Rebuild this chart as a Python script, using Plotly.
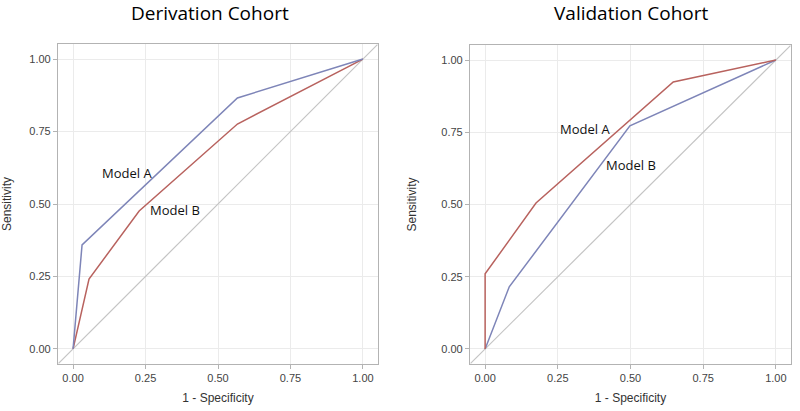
import plotly.graph_objects as go

# Derivation cohort
der_a_x = [0.0, 0.031, 0.567, 1.0]
der_a_y = [0.0, 0.359, 0.866, 1.0]
der_b_x = [0.0, 0.055, 0.228, 0.567, 1.0]
der_b_y = [0.0, 0.241, 0.476, 0.776, 1.0]

# Validation cohort
val_a_x = [0.0, 0.0, 0.175, 0.647, 1.0]
val_a_y = [0.0, 0.26, 0.505, 0.924, 1.0]
val_b_x = [0.0, 0.083, 0.498, 1.0]
val_b_y = [0.0, 0.215, 0.772, 1.0]

ref_line = [-0.05, 1.05]
tick_vals = [0.0, 0.25, 0.5, 0.75, 1.0]
tick_text = ["0.00", "0.25", "0.50", "0.75", "1.00"]

titles = ["Derivation Cohort", "Validation Cohort"]
x_title = "1 - Specificity"
y_title = "Sensitivity"

BLUE = "#7e85b8"
RED = "#b8625e"
GRAY = "#c4c4c4"
FRAME = "#b3b3b3"
GRID = "#ebebeb"

W = 800
H = 411

def px_x(p):
    return p / W

def px_y(p):
    return 1 - p / H

fig = go.Figure()

def add_panel(idx, ax, ay, bx, by, a_color, b_color):
    xa = "x" if idx == 1 else "x2"
    ya = "y" if idx == 1 else "y2"
    fig.add_trace(go.Scatter(x=ref_line, y=ref_line, mode="lines",
                             line=dict(color=GRAY, width=1.2), xaxis=xa, yaxis=ya,
                             showlegend=False, hoverinfo="skip"))
    fig.add_trace(go.Scatter(x=bx, y=by, mode="lines",
                             line=dict(color=b_color, width=1.5), xaxis=xa, yaxis=ya,
                             showlegend=False, name="Model B"))
    fig.add_trace(go.Scatter(x=ax, y=ay, mode="lines",
                             line=dict(color=a_color, width=1.5), xaxis=xa, yaxis=ya,
                             showlegend=False, name="Model A"))

add_panel(1, der_a_x, der_a_y, der_b_x, der_b_y, BLUE, RED)
add_panel(2, val_a_x, val_a_y, val_b_x, val_b_y, RED, BLUE)

axis_common = dict(range=[-0.052, 1.052], tickvals=tick_vals, ticktext=tick_text,
                   showgrid=True, gridcolor=GRID, gridwidth=1, zeroline=False,
                   showline=True, linecolor=FRAME, linewidth=1.2, mirror=True,
                   ticks="outside", ticklen=4, tickcolor=FRAME, automargin=False,
                   tickfont=dict(family="Liberation Sans, Arial", size=11, color="#444444"),
                   title_font=dict(family="Liberation Sans, Arial", size=12, color="#333333"))

fig.update_layout(
    width=W, height=H,
    margin=dict(l=0, r=0, t=0, b=0, autoexpand=False),
    paper_bgcolor="white", plot_bgcolor="white",
    xaxis=dict(domain=[px_x(58), px_x(378)], anchor="y", title=dict(text=x_title, standoff=10), **axis_common),
    yaxis=dict(domain=[px_y(364), px_y(44)], anchor="x", title=dict(text=y_title, standoff=22), **axis_common),
    xaxis2=dict(domain=[px_x(470), px_x(791)], anchor="y2", title=dict(text=x_title, standoff=10), **axis_common),
    yaxis2=dict(domain=[px_y(364), px_y(45)], anchor="x2", title=dict(text=y_title, standoff=22), **axis_common),
)

title_font = dict(family="Open Sans, Noto Sans", size=19, color="#000000")
fig.add_annotation(text=titles[0], xref="paper", yref="paper", x=px_x(210), y=px_y(13),
                   showarrow=False, font=title_font, xanchor="center", yanchor="middle")
fig.add_annotation(text=titles[1], xref="paper", yref="paper", x=px_x(631), y=px_y(13),
                   showarrow=False, font=title_font, xanchor="center", yanchor="middle")

label_font = dict(family="Open Sans, Noto Sans", size=13, color="#111111")
fig.add_annotation(text="Model A", x=0.187, y=0.607, xref="x", yref="y", showarrow=False, font=label_font)
fig.add_annotation(text="Model B", x=0.35, y=0.48, xref="x", yref="y", showarrow=False, font=label_font)
fig.add_annotation(text="Model A", x=0.343, y=0.76, xref="x2", yref="y2", showarrow=False, font=label_font)
fig.add_annotation(text="Model B", x=0.50, y=0.635, xref="x2", yref="y2", showarrow=False, font=label_font)

fig.write_html("out.html", config={"displayModeBar": False},
               post_script="document.body.style.margin='0';document.body.style.overflow='hidden';")
